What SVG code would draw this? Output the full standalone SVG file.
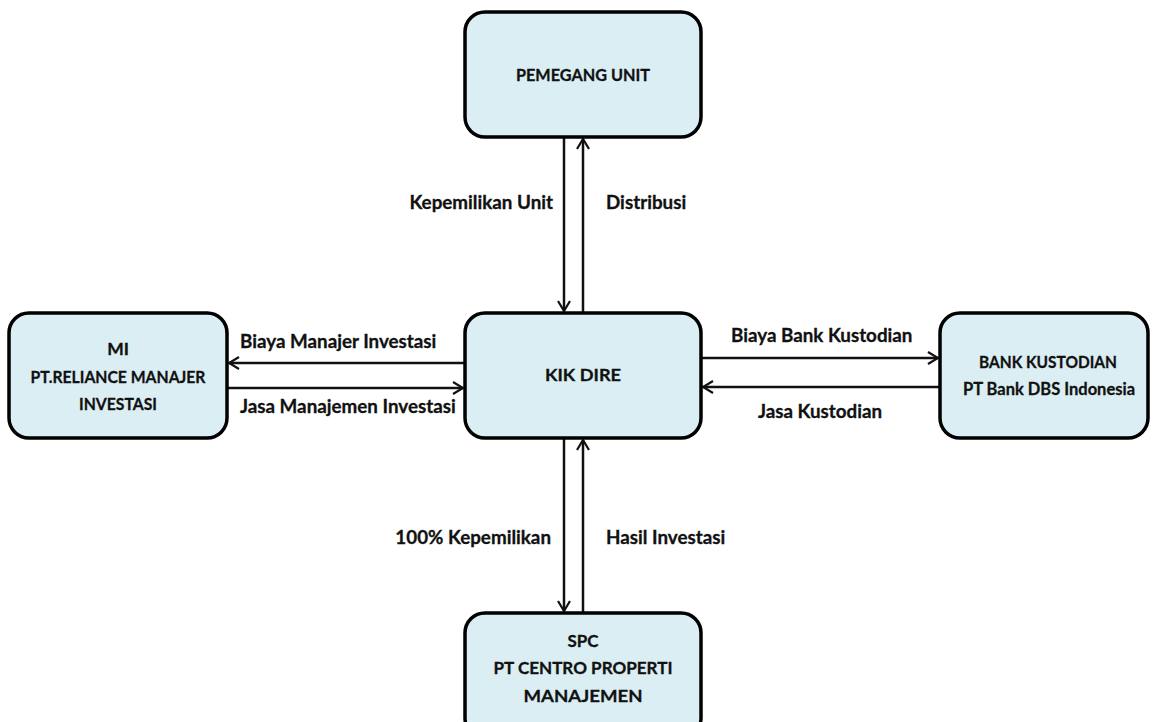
<svg xmlns="http://www.w3.org/2000/svg" width="1153" height="722" viewBox="0 0 1153 722">
<style>
.box{fill:#DAEEF3;stroke:#000;stroke-width:3.5}
.t{font-family:Lato,"Open Sans","Liberation Sans",sans-serif;font-weight:bold;font-size:18.8px;fill:#111;stroke:#111;stroke-width:0.3}
.b{font-size:17.5px}
.c{text-anchor:middle}
.e{text-anchor:end}
.ln{stroke:#111;stroke-width:2.5;fill:none}
</style>
<defs>
<marker id="ah" viewBox="0 0 14 14" refX="12" refY="7" markerWidth="14" markerHeight="14" markerUnits="userSpaceOnUse" orient="auto">
<path d="M2,1 L12,7 L2,13" fill="none" stroke="#111" stroke-width="2.2"/>
</marker>
</defs>
<rect width="1153" height="722" fill="#fff"/>
<g id="connectors">
<line class="ln" x1="564" y1="138" x2="564" y2="311" marker-end="url(#ah)"/>
<line class="ln" x1="583" y1="313" x2="583" y2="139" marker-end="url(#ah)"/>
<line class="ln" x1="465" y1="363" x2="229" y2="363" marker-end="url(#ah)"/>
<line class="ln" x1="227" y1="388" x2="463" y2="388" marker-end="url(#ah)"/>
<line class="ln" x1="701" y1="358" x2="938" y2="358" marker-end="url(#ah)"/>
<line class="ln" x1="940" y1="387" x2="703" y2="387" marker-end="url(#ah)"/>
<line class="ln" x1="564" y1="438" x2="564" y2="611" marker-end="url(#ah)"/>
<line class="ln" x1="583" y1="613" x2="583" y2="440" marker-end="url(#ah)"/>
<text class="t e" x="553" y="209">Kepemilikan Unit</text>
<text class="t" x="606" y="209">Distribusi</text>
<text class="t" x="240" y="348">Biaya Manajer Investasi</text>
<text class="t" x="240" y="413">Jasa Manajemen Investasi</text>
<text class="t" x="731" y="342">Biaya Bank Kustodian</text>
<text class="t" x="758" y="418">Jasa Kustodian</text>
<text class="t e" x="551" y="544">100% Kepemilikan</text>
<text class="t" x="606" y="544">Hasil Investasi</text>
</g>
<g id="pemegang">
<rect class="box" x="465" y="12" width="236" height="125" rx="20"/>
<text class="t b c" x="583" y="81" textLength="134" lengthAdjust="spacingAndGlyphs">PEMEGANG UNIT</text>
</g>
<g id="kik">
<rect class="box" x="465" y="313" width="236" height="125" rx="20"/>
<text class="t b c" x="583" y="381" textLength="76" lengthAdjust="spacingAndGlyphs">KIK DIRE</text>
</g>
<g id="mi">
<rect class="box" x="9" y="313" width="218" height="125" rx="20"/>
<text class="t b c" x="118" y="355">MI</text>
<text class="t b c" x="118" y="383" textLength="175" lengthAdjust="spacingAndGlyphs">PT.RELIANCE MANAJER</text>
<text class="t b c" x="118" y="410" textLength="78" lengthAdjust="spacingAndGlyphs">INVESTASI</text>
</g>
<g id="bank">
<rect class="box" x="940" y="313" width="208" height="125" rx="20"/>
<text class="t b c" x="1048" y="368" textLength="138" lengthAdjust="spacingAndGlyphs">BANK KUSTODIAN</text>
<text class="t c" x="1049" y="395" textLength="172" lengthAdjust="spacingAndGlyphs" style="font-size:17.3px">PT Bank DBS Indonesia</text>
</g>
<g id="spc">
<rect class="box" x="465" y="613" width="236" height="125" rx="20"/>
<text class="t b c" x="583" y="647" textLength="31" lengthAdjust="spacingAndGlyphs">SPC</text>
<text class="t b c" x="583" y="674" textLength="179" lengthAdjust="spacingAndGlyphs">PT CENTRO PROPERTI</text>
<text class="t b c" x="583" y="702" textLength="119" lengthAdjust="spacingAndGlyphs">MANAJEMEN</text>
</g>
</svg>
